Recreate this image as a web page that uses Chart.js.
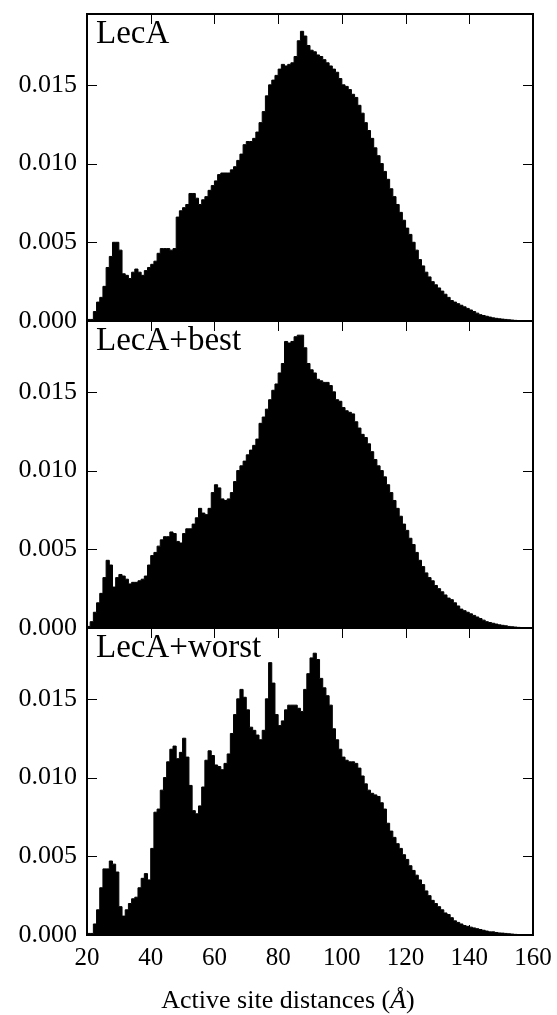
<!DOCTYPE html>
<html>
<head>
<meta charset="utf-8">
<script src="https://cdn.jsdelivr.net/npm/chart.js@4.4.1/dist/chart.umd.min.js"></script>
<style>
    html, body { margin: 0; padding: 0; background: #fff; }
    #wrap { position: relative; width: 557px; height: 1015px; overflow: hidden; }
    .panel { position: absolute; left: 0; }
    canvas { display: block; }
</style>
</head>
<body>
<div id="wrap">
    <div class="panel" style="top:-16px"><canvas id="lecaChart" width="570" height="367"></canvas></div>
    <div class="panel" style="top:291px"><canvas id="bestChart" width="570" height="367"></canvas></div>
    <div class="panel" style="top:598px"><canvas id="worstChart" width="570" height="417"></canvas></div>
</div>
<script>
// Histogram bins: 1 Å wide, starting at 20 Å
const binStart = 20;
const binWidth = 1;
const xTicks = [20, 40, 60, 80, 100, 120, 140, 160];
const yTicks = [0, 0.005, 0.010, 0.015];
const yMax = 0.0195;
const panelNames = ['LecA', 'LecA+best', 'LecA+worst'];
const xTitle = ['Active site distances (', 'Å', ')'];

// LecA (bins 20..159)
const leca = [
    0.0001, 0.0001, 0.0006, 0.0012, 0.0015, 0.0022, 0.0034, 0.0041, 0.0050, 0.0050,
    0.0045, 0.0030, 0.0029, 0.0027, 0.0031, 0.0033, 0.0031, 0.0029, 0.0032, 0.0034,
    0.0036, 0.0038, 0.0043, 0.0046, 0.0046, 0.0046, 0.0045, 0.0046, 0.0066, 0.0070,
    0.0072, 0.0074, 0.0081, 0.0081, 0.0078, 0.0074, 0.0077, 0.0079, 0.0083, 0.0086,
    0.0089, 0.0093, 0.0094, 0.0094, 0.0094, 0.0096, 0.0098, 0.0102, 0.0106, 0.0112,
    0.0114, 0.0114, 0.0116, 0.0120, 0.0126, 0.0133, 0.0143, 0.0150, 0.0153, 0.0156,
    0.0160, 0.0163, 0.0162, 0.0163, 0.0164, 0.0168, 0.0178, 0.0184, 0.0181, 0.0175,
    0.0172, 0.0171, 0.0169, 0.0168, 0.0166, 0.0164, 0.0162, 0.0160, 0.0158, 0.0154,
    0.0150, 0.0149, 0.0147, 0.0144, 0.0142, 0.0137, 0.0132, 0.0126, 0.0121, 0.0116,
    0.0110, 0.0105, 0.0100, 0.0095, 0.0090, 0.0084, 0.0079, 0.0074, 0.0069, 0.0064,
    0.0059, 0.0055, 0.0050, 0.0045, 0.0039, 0.0035, 0.0031, 0.0028, 0.0025, 0.0023,
    0.0021, 0.0019, 0.0017, 0.0015, 0.0013, 0.0012, 0.0011, 0.0010, 0.0009, 0.0008,
    0.0007, 0.0006, 0.0005, 0.0004, 0.00035, 0.0003, 0.00025, 0.0002, 0.00017, 0.00014,
    0.00012, 0.0001, 0.00008, 0.00006, 0.00004, 0.00003, 0.00002, 0.00001, 0, 0
];

// LecA+best
const lecaBest = [
    0.0001, 0.0004, 0.0010, 0.0016, 0.0022, 0.0032, 0.0043, 0.0040, 0.0026, 0.0032,
    0.0034, 0.0033, 0.0031, 0.0028, 0.0029, 0.0029, 0.0030, 0.0031, 0.0033, 0.0040,
    0.0046, 0.0048, 0.0052, 0.0056, 0.0058, 0.0058, 0.0061, 0.0060, 0.0055, 0.0054,
    0.0060, 0.0063, 0.0063, 0.0066, 0.0070, 0.0076, 0.0073, 0.0072, 0.0076, 0.0086,
    0.0091, 0.0089, 0.0082, 0.0081, 0.0082, 0.0086, 0.0093, 0.0100, 0.0103, 0.0106,
    0.0110, 0.0113, 0.0116, 0.0120, 0.0130, 0.0134, 0.0139, 0.0145, 0.0151, 0.0155,
    0.0162, 0.0168, 0.0182, 0.0181, 0.0182, 0.0185, 0.0186, 0.0186, 0.0178, 0.0168,
    0.0164, 0.0162, 0.0158, 0.0157, 0.0156, 0.0156, 0.0154, 0.0150, 0.0145, 0.0144,
    0.0140, 0.0138, 0.0137, 0.0136, 0.0131, 0.0127, 0.0123, 0.0121, 0.0117, 0.0112,
    0.0107, 0.0103, 0.0100, 0.0096, 0.0091, 0.0086, 0.0081, 0.0076, 0.0071, 0.0066,
    0.0062, 0.0057, 0.0053, 0.0048, 0.0043, 0.0039, 0.0035, 0.0032, 0.0030, 0.0027,
    0.0025, 0.0023, 0.0021, 0.0019, 0.0018, 0.0016, 0.0014, 0.0012, 0.0011, 0.0010,
    0.0009, 0.0008, 0.0007, 0.0006, 0.0005, 0.0004, 0.00035, 0.0003, 0.00025, 0.0002,
    0.00017, 0.00014, 0.0001, 0.00008, 0.00006, 0.00004, 0.00003, 0.00002, 0.00001, 0
];

// LecA+worst
const lecaWorst = [
    0.0001, 0.0001, 0.0007, 0.0016, 0.0030, 0.0042, 0.0042, 0.0047, 0.0045, 0.0040,
    0.0018, 0.0012, 0.0016, 0.0020, 0.0023, 0.0024, 0.0030, 0.0036, 0.0039, 0.0035,
    0.0055, 0.0078, 0.0080, 0.0092, 0.0100, 0.0110, 0.0118, 0.0120, 0.0112, 0.0116,
    0.0125, 0.0113, 0.0095, 0.0079, 0.0077, 0.0082, 0.0094, 0.0111, 0.0117, 0.0114,
    0.0108, 0.0107, 0.0105, 0.0109, 0.0115, 0.0128, 0.0140, 0.0150, 0.0156, 0.0151,
    0.0143, 0.0132, 0.0130, 0.0127, 0.0124, 0.0130, 0.0150, 0.0173, 0.0160, 0.0140,
    0.0133, 0.0136, 0.0143, 0.0146, 0.0146, 0.0146, 0.0144, 0.0142, 0.0156, 0.0166,
    0.0176, 0.0179, 0.0175, 0.0163, 0.0157, 0.0152, 0.0146, 0.0131, 0.0124, 0.0118,
    0.0113, 0.0111, 0.0110, 0.0110, 0.0109, 0.0106, 0.0101, 0.0096, 0.0092, 0.0090,
    0.0089, 0.0088, 0.0084, 0.0080, 0.0071, 0.0066, 0.0062, 0.0058, 0.0055, 0.0051,
    0.0048, 0.0044, 0.0041, 0.0038, 0.0035, 0.0032, 0.0028, 0.0025, 0.0022, 0.0020,
    0.0018, 0.0016, 0.0014, 0.0013, 0.0011, 0.0009, 0.0008, 0.0007, 0.0006, 0.00055,
    0.0005, 0.00045, 0.0004, 0.00035, 0.0003, 0.00025, 0.0002, 0.0002, 0.00016, 0.00013,
    0.00012, 0.0001, 0.00008, 0.00006, 0.00004, 0.00003, 0.00002, 0.00001, 0, 0
];

Chart.defaults.font.family = '"Liberation Serif", "Times New Roman", serif';
Chart.defaults.color = '#000';

// turn bin values into step points (left edge of each bin + closing edge)
function toSteps(values) {
    const pts = values.map((v, i) => ({ x: binStart + i * binWidth, y: v }));
    pts.push({ x: binStart + values.length * binWidth, y: values[values.length - 1] });
    return pts;
}

// frame, inward ticks on all four sides, panel name and (bottom panel) x title
const framePlugin = {
    id: 'frameTicks',
    afterDraw(chart, args, opts) {
        const ctx = chart.ctx;
        const a = chart.chartArea;
        const x = chart.scales.x;
        const y = chart.scales.y;
        ctx.save();
        ctx.strokeStyle = '#000';
        ctx.lineWidth = 1;
        ctx.beginPath();
        xTicks.forEach(function(v) {
            const px = Math.round(x.getPixelForValue(v)) + 0.5;
            ctx.moveTo(px, a.top);
            ctx.lineTo(px, a.top + 10);
            ctx.moveTo(px, a.bottom);
            ctx.lineTo(px, a.bottom - 10);
        });
        yTicks.forEach(function(v) {
            const py = Math.round(y.getPixelForValue(v)) + 0.5;
            ctx.moveTo(a.left, py);
            ctx.lineTo(a.left + 10, py);
            ctx.moveTo(a.right, py);
            ctx.lineTo(a.right - 10, py);
        });
        ctx.stroke();
        ctx.lineWidth = 2;
        ctx.strokeRect(a.left, a.top, a.right - a.left, a.bottom - a.top);

        ctx.fillStyle = '#000';
        ctx.font = '33px "Liberation Serif", serif';
        ctx.textAlign = 'left';
        ctx.textBaseline = 'alphabetic';
        ctx.fillText(opts.text, a.left + 9, a.top + 28.7);

        if (opts.xTitle) {
            // x label, with the Ångström sign in italics as in the source
            const fonts = ['26px "Liberation Serif", serif', 'italic 26px "Liberation Serif", serif', '26px "Liberation Serif", serif'];
            let total = 0;
            const widths = opts.xTitle.map(function(t, i) {
                ctx.font = fonts[i];
                const w = ctx.measureText(t).width;
                total += w;
                return w;
            });
            let tx = 288 - total / 2;
            const ty = a.bottom + 72.5;
            opts.xTitle.forEach(function(t, i) {
                ctx.font = fonts[i];
                ctx.fillText(t, tx, ty);
                tx += widths[i];
            });
        }
        ctx.restore();
    }
};

function makePanel(canvasId, name, values, showX) {
    const el = document.getElementById(canvasId);
    if (!el) return null;
    return new Chart(el, {
        type: 'line',
        data: {
            datasets: [{
                label: name,
                data: toSteps(values),
                stepped: true,
                fill: 'origin',
                backgroundColor: '#000',
                borderColor: '#000',
                borderWidth: 1,
                pointRadius: 0
            }]
        },
        options: {
            responsive: false,
            animation: false,
            events: [],
            layout: {
                // canvas is 570 wide (clipped at 557) so the plot ends at x = 533
                padding: { top: 30, bottom: showX ? 0 : 30, left: 0, right: 37 }
            },
            scales: {
                x: {
                    type: 'linear',
                    min: 20,
                    max: 160,
                    display: showX,
                    afterBuildTicks: function(scale) {
                        scale.ticks = xTicks.map(v => ({ value: v }));
                    },
                    afterFit: function(scale) {
                        if (showX) scale.height = 80;
                    },
                    grid: { display: false, drawTicks: false },
                    border: { display: false },
                    ticks: {
                        padding: 8,
                        maxRotation: 0,
                        font: { size: 25 }
                    }
                },
                y: {
                    min: 0,
                    max: yMax,
                    afterBuildTicks: function(scale) {
                        scale.ticks = yTicks.map(v => ({ value: v }));
                    },
                    afterFit: function(scale) {
                        scale.width = 87;
                    },
                    grid: { display: false, drawTicks: false },
                    border: { display: false },
                    ticks: {
                        padding: 10,
                        font: { size: 26 },
                        callback: v => v.toFixed(3)
                    }
                }
            },
            plugins: {
                legend: { display: false },
                tooltip: { enabled: false },
                frameTicks: { text: name, xTitle: showX ? xTitle : null }
            }
        },
        plugins: [framePlugin]
    });
}

makePanel('lecaChart', panelNames[0], leca, false);
makePanel('bestChart', panelNames[1], lecaBest, false);
makePanel('worstChart', panelNames[2], lecaWorst, true);
</script>
</body>
</html>
